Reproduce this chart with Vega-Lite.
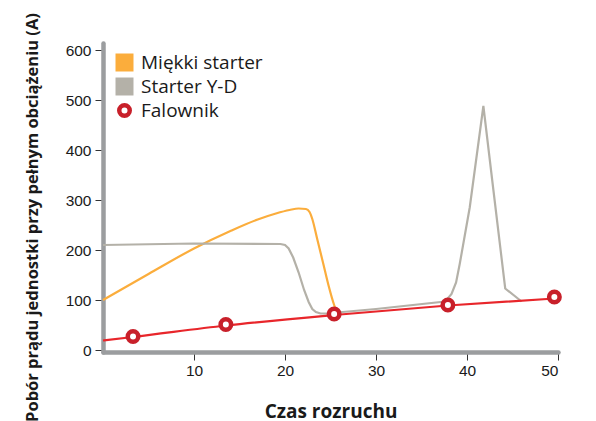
{
  "$schema": "https://vega.github.io/schema/vega-lite/v6.json",
  "width": 455,
  "height": 309,
  "autosize": "none",
  "padding": {"left": 103, "top": 43, "right": 38, "bottom": 69},
  "background": "white",
  "config": {
    "view": {"stroke": null},
    "axis": {
      "domainColor": "#9b9d9f",
      "domainWidth": 4.5,
      "domainCap": "round",
      "tickColor": "#333333",
      "tickWidth": 1,
      "tickSize": 8,
      "grid": false,
      "labelFont": "Liberation Sans",
      "labelFontSize": 15.5,
      "labelColor": "#1a1a1a",
      "titleFont": "Open Sans",
      "titleFontWeight": "bold",
      "titleColor": "#1a1a1a"
    }
  },
  "datasets": {
    "soft": [
      {"series": "Miękki starter", "t": 0, "a": 100},
      {"series": "Miękki starter", "t": 5, "a": 152},
      {"series": "Miękki starter", "t": 10, "a": 203},
      {"series": "Miękki starter", "t": 14, "a": 238},
      {"series": "Miękki starter", "t": 17, "a": 261},
      {"series": "Miękki starter", "t": 19, "a": 273},
      {"series": "Miękki starter", "t": 20.5, "a": 280},
      {"series": "Miękki starter", "t": 21.5, "a": 283},
      {"series": "Miękki starter", "t": 22.3, "a": 282},
      {"series": "Miękki starter", "t": 22.7, "a": 276},
      {"series": "Miękki starter", "t": 23.0, "a": 262},
      {"series": "Miękki starter", "t": 23.5, "a": 225},
      {"series": "Miękki starter", "t": 24.2, "a": 173},
      {"series": "Miękki starter", "t": 24.8, "a": 128},
      {"series": "Miękki starter", "t": 25.4, "a": 90},
      {"series": "Miękki starter", "t": 25.7, "a": 76}
    ],
    "yd": [
      {"series": "Starter Y-D", "t": 0, "a": 210},
      {"series": "Starter Y-D", "t": 10, "a": 213},
      {"series": "Starter Y-D", "t": 19.5, "a": 212},
      {"series": "Starter Y-D", "t": 20.0, "a": 210},
      {"series": "Starter Y-D", "t": 20.4, "a": 203},
      {"series": "Starter Y-D", "t": 20.9, "a": 185},
      {"series": "Starter Y-D", "t": 21.5, "a": 155},
      {"series": "Starter Y-D", "t": 22.1, "a": 120},
      {"series": "Starter Y-D", "t": 22.6, "a": 96},
      {"series": "Starter Y-D", "t": 23.0, "a": 82},
      {"series": "Starter Y-D", "t": 23.4, "a": 76},
      {"series": "Starter Y-D", "t": 23.9, "a": 73},
      {"series": "Starter Y-D", "t": 24.5, "a": 73},
      {"series": "Starter Y-D", "t": 30, "a": 82},
      {"series": "Starter Y-D", "t": 37.6, "a": 97},
      {"series": "Starter Y-D", "t": 38.3, "a": 112},
      {"series": "Starter Y-D", "t": 38.8, "a": 135},
      {"series": "Starter Y-D", "t": 39.2, "a": 172},
      {"series": "Starter Y-D", "t": 40.3, "a": 285},
      {"series": "Starter Y-D", "t": 41.8, "a": 488},
      {"series": "Starter Y-D", "t": 42.9, "a": 320},
      {"series": "Starter Y-D", "t": 44.2, "a": 123},
      {"series": "Starter Y-D", "t": 46, "a": 97}
    ],
    "vfd": [
      {"t": 0, "a": 19},
      {"t": 3.3, "a": 26},
      {"t": 13.5, "a": 49},
      {"t": 25.4, "a": 70},
      {"t": 37.9, "a": 89},
      {"t": 49.6, "a": 103}
    ],
    "vfdpts": [
      {"series": "Falownik", "t": 3.3, "a": 27},
      {"series": "Falownik", "t": 13.5, "a": 51},
      {"series": "Falownik", "t": 25.4, "a": 72},
      {"series": "Falownik", "t": 37.9, "a": 90},
      {"series": "Falownik", "t": 49.6, "a": 106}
    ]
  },
  "encoding": {
    "x": {
      "field": "t", "type": "quantitative",
      "scale": {"domain": [0, 50], "nice": false, "zero": false},
      "axis": {
        "values": [10, 20, 30, 40, 50],
        "title": "Czas rozruchu",
        "titleFontSize": 19,
        "titleY": 65,
        "titleBaseline": "alphabetic",
        "labelPadding": 3
      }
    },
    "y": {
      "field": "a", "type": "quantitative",
      "scale": {"domain": [-4, 614], "nice": false, "zero": false},
      "axis": {
        "values": [0, 100, 200, 300, 400, 500, 600],
        "title": "Pobór prądu jednostki przy pełnym obciążeniu (A)",
        "titleFontSize": 16.5,
        "titleX": -71,
        "titleY": 174,
        "titleAngle": -90,
        "titleAlign": "center",
        "titleBaseline": "middle",
        "labelPadding": 4
      }
    }
  },
  "layer": [
    {
      "data": {"name": "soft"},
      "mark": {"type": "line", "strokeWidth": 2.2, "interpolate": "monotone"},
      "encoding": {
        "color": {
          "field": "series", "type": "nominal",
          "scale": {"domain": ["Miękki starter", "Starter Y-D", "Falownik"], "range": ["#fbad3c", "#b4b1a8", "#c8202a"]},
          "legend": {
            "title": null,
            "orient": "none",
            "legendX": 12,
            "legendY": 10,
            "padding": 0,
            "symbolType": "square",
            "symbolSize": 324,
            "rowPadding": -6.5,
            "gridAlign": "all",
            "labelOffset": 7,
            "labelFont": "Open Sans",
            "labelFontSize": 19,
            "labelColor": "#1a1a1a",
            "encode": {
              "symbols": {"update": {
                "shape": {"signal": "datum.value === 'Falownik' ? 'circle' : 'square'"},
                "size": {"signal": "datum.value === 'Falownik' ? 110 : 324"},
                "fill": {"signal": "datum.value === 'Falownik' ? 'white' : scale('color', datum.value)"},
                "stroke": {"signal": "datum.value === 'Falownik' ? '#c8202a' : 'transparent'"},
                "strokeWidth": {"signal": "datum.value === 'Falownik' ? 4.5 : 0"},
                "opacity": {"value": 1}
              }}
            }
          }
        }
      }
    },
    {
      "data": {"name": "yd"},
      "mark": {"type": "line", "strokeWidth": 2.2, "interpolate": "linear"},
      "encoding": {
        "color": {"field": "series", "type": "nominal"}
      }
    },
    {
      "data": {"name": "vfd"},
      "mark": {"type": "line", "color": "#e8262b", "strokeWidth": 2.2, "interpolate": "monotone"},
      "encoding": {}
    },
    {
      "data": {"name": "vfdpts"},
      "mark": {"type": "point", "shape": "circle", "filled": false, "fill": "white", "strokeWidth": 4.5, "size": 110, "opacity": 1},
      "encoding": {
        "color": {"field": "series", "type": "nominal"}
      }
    }
  ]
}
